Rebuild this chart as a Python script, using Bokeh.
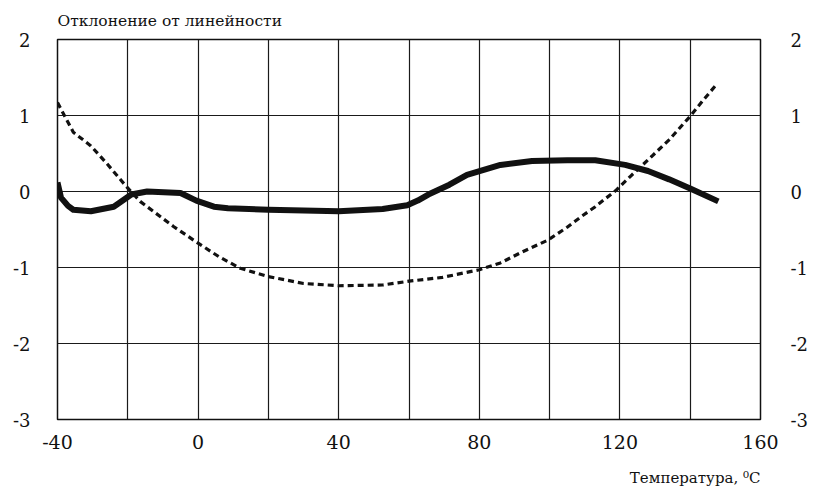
from bokeh.plotting import figure
from bokeh.models import FixedTicker, LinearAxis, Range1d, CustomJSTickFormatter, Title
from bokeh.embed import file_html
from bokeh.resources import INLINE

# --- data ---
temp_solid = [-40, -39, -37, -35.5, -30.5, -24, -19, -14.5, -5, -0.5, 4.5, 8.5, 20, 40,
              52.5, 59.5, 62.5, 65.5, 71.5, 76.5, 86, 95, 105, 113, 121.5, 128, 134, 140, 148]
dev_solid = [0.12, -0.08, -0.19, -0.24, -0.26, -0.2, -0.04, 0.0, -0.02, -0.12, -0.2, -0.22, -0.24, -0.26,
             -0.23, -0.18, -0.12, -0.04, 0.09, 0.22, 0.35, 0.4, 0.41, 0.41, 0.35, 0.27, 0.16, 0.04, -0.13]

temp_dash = [-40, -35.5, -30.5, -26, -20.5, -16.5, -7, 0, 6, 12, 20, 30, 40, 52.5, 60, 69.5,
             80, 86, 92, 99.5, 105, 109, 113, 119, 123, 129, 134, 140, 143.5, 147.5]
dev_dash = [1.17, 0.78, 0.6, 0.37, 0.07, -0.13, -0.46, -0.68, -0.86, -1.01, -1.12, -1.21, -1.24, -1.23,
            -1.18, -1.13, -1.03, -0.94, -0.8, -0.64, -0.47, -0.33, -0.2, 0.02, 0.2, 0.46, 0.68, 0.99, 1.19, 1.41]

x_grid = [-40, -20, 0, 20, 40, 60, 80, 100, 120, 140, 160]
x_labels = [-40, 0, 40, 80, 120, 160]
y_ticks = [-3, -2, -1, 0, 1, 2]

title_text = "Отклонение от линейности"
xlabel_text = "Температура, ⁰C"

FONT = "DejaVu Serif"

p = figure(width=826, height=501, output_backend="svg", toolbar_location=None,
           x_range=Range1d(-40, 160), y_range=Range1d(-3, 2),
           min_border_left=57, min_border_right=66, min_border_top=39, min_border_bottom=81)

p.title.text = title_text
p.title.align = "left"
p.title.text_font = FONT
p.title.text_font_size = "15.5px"
p.title.text_font_style = "normal"
p.title.text_color = "#111111"
p.title.standoff = 19

p.outline_line_color = "#111111"
p.outline_line_width = 1.5
p.background_fill_color = "white"
p.border_fill_color = "white"

p.xgrid.ticker = FixedTicker(ticks=x_grid)
p.ygrid.ticker = FixedTicker(ticks=y_ticks)
for g in (p.xgrid, p.ygrid):
    g.grid_line_color = "#1a1a1a"
    g.grid_line_width = 1.2
    g.grid_line_alpha = 1.0

fmt = CustomJSTickFormatter(code="return String(tick);")

def style_axis(ax, ticks, size, standoff):
    ax.ticker = FixedTicker(ticks=ticks)
    ax.formatter = fmt
    ax.axis_line_color = None
    ax.major_tick_line_color = None
    ax.minor_tick_line_color = None
    ax.major_tick_out = 0
    ax.major_tick_in = 0
    ax.major_label_text_font = FONT
    ax.major_label_text_font_size = size
    ax.major_label_text_color = "#111111"
    ax.major_label_standoff = standoff

style_axis(p.xaxis[0], x_labels, "19px", 15)
style_axis(p.yaxis[0], y_ticks, "18px", 27)

right_axis = LinearAxis()
style_axis(right_axis, y_ticks, "18px", 30)
p.add_layout(right_axis, "right")

xt = Title(text=xlabel_text, align="right", text_font=FONT, text_font_size="15px",
           text_font_style="normal", text_color="#111111", standoff=30)
p.add_layout(xt, "below")

p.line(temp_dash, dev_dash, line_color="#111111", line_width=3.2, line_dash="6 4")
p.line(temp_solid, dev_solid, line_color="#111111", line_width=6, line_join="round", line_cap="butt")

open("out.html", "w").write(file_html(p, INLINE))
